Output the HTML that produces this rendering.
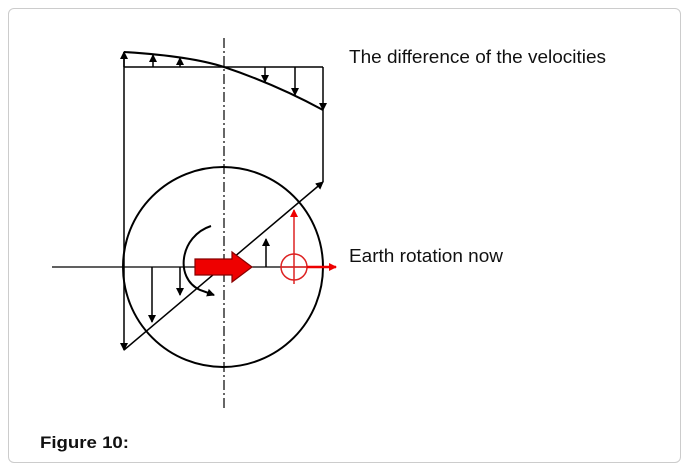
<!DOCTYPE html>
<html><head><style>
body{margin:0;width:688px;height:470px;background:#fff;font-family:"Liberation Sans",sans-serif;}
.frame{position:absolute;left:8px;top:8px;width:671px;height:453px;border:1px solid #ccc;border-radius:6px;}
</style></head><body>
<div class="frame"></div>
<svg width="688" height="470" style="position:absolute;left:0;top:0">
<defs>
<marker id="a" markerWidth="8" markerHeight="8" refX="7" refY="4" orient="auto" markerUnits="userSpaceOnUse"><path d="M0,0 L8,4 L0,8z" fill="#000"/></marker>
<marker id="r" markerWidth="8" markerHeight="8" refX="7" refY="4" orient="auto" markerUnits="userSpaceOnUse"><path d="M0,0 L8,4 L0,8z" fill="#e00"/></marker>
</defs>
<g stroke="#000" fill="none" stroke-width="1.5">
<line x1="224" y1="38" x2="224" y2="410" stroke-dasharray="10,3,2,3" stroke-width="1.2"/>
<line x1="124" y1="67" x2="323" y2="67"/>
<path d="M124,52 Q190,56 224,67 Q275,84 323,110" stroke-width="2"/>
<line x1="124" y1="67" x2="124" y2="52" marker-end="url(#a)"/>
<line x1="153" y1="67" x2="153" y2="55" marker-end="url(#a)"/>
<line x1="180" y1="67" x2="180" y2="58" marker-end="url(#a)"/>
<line x1="265" y1="67" x2="265" y2="82" marker-end="url(#a)"/>
<line x1="295" y1="67" x2="295" y2="95" marker-end="url(#a)"/>
<line x1="124" y1="52" x2="124" y2="350" marker-end="url(#a)"/>
<line x1="323" y1="67" x2="323" y2="110" marker-end="url(#a)"/>
<line x1="323" y1="110" x2="323" y2="182"/>
<circle cx="223" cy="267" r="100" stroke-width="2"/>
<line x1="52" y1="267" x2="323" y2="267" stroke-width="1.2"/>
<line x1="124" y1="350" x2="323" y2="182" marker-end="url(#a)"/>
<line x1="152" y1="267" x2="152" y2="322" marker-end="url(#a)"/>
<line x1="180" y1="267" x2="180" y2="295" marker-end="url(#a)"/>
<line x1="266" y1="267" x2="266" y2="239" marker-end="url(#a)"/>
<path d="M211,226 C180,236 174,278 200,290 L214,295" marker-end="url(#a)" stroke-width="2"/>
</g>
<path d="M195,259 L232,259 L232,252 L252,267 L232,282 L232,275 L195,275z" fill="#e00" stroke="#800" stroke-width="1.2"/>
<g stroke="#d22" fill="none" stroke-width="1.5">
<circle cx="294" cy="267" r="13"/>
<line x1="294" y1="284" x2="294" y2="210" marker-end="url(#r)"/>
<line x1="281" y1="267" x2="307" y2="267"/>
<line x1="307" y1="267" x2="336" y2="267" stroke="#e00" stroke-width="2.5" marker-end="url(#r)"/>
</g>
<text x="349" y="63" font-size="18" fill="#111" textLength="257" lengthAdjust="spacingAndGlyphs">The difference of the velocities</text>
<text x="349" y="262" font-size="18" fill="#111" textLength="154" lengthAdjust="spacingAndGlyphs">Earth rotation now</text>
<text x="40" y="448" font-size="17" font-weight="bold" fill="#111" textLength="89" lengthAdjust="spacingAndGlyphs">Figure 10:</text>
</svg>
</body></html>
